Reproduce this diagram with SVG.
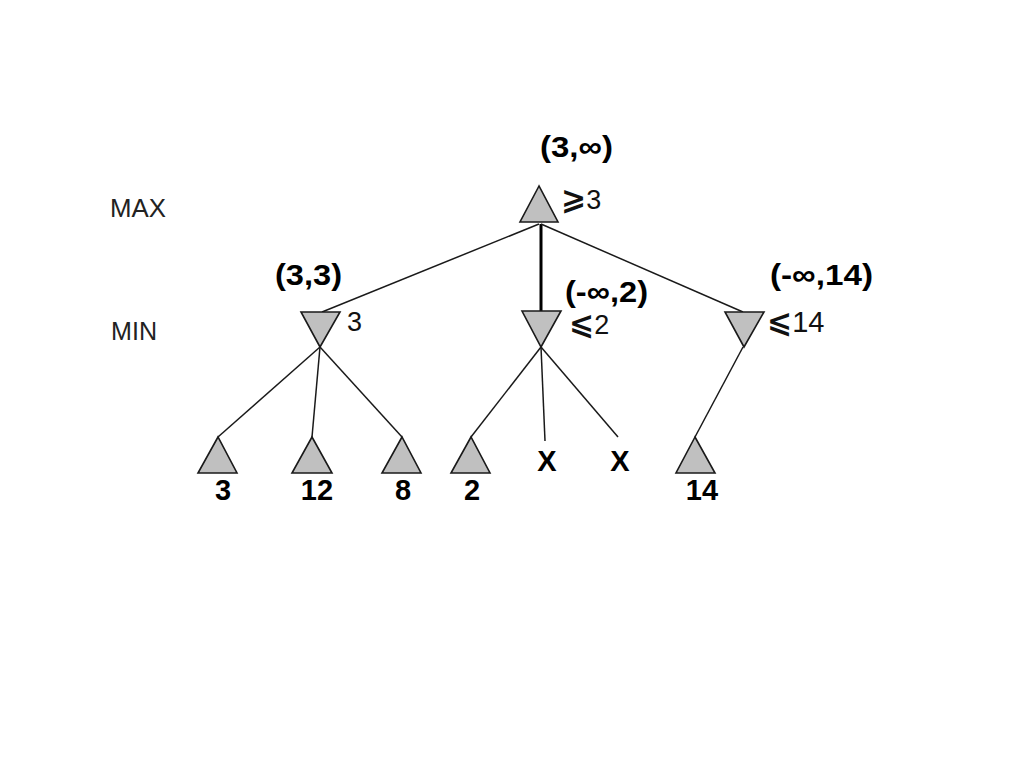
<svg xmlns="http://www.w3.org/2000/svg" width="1024" height="768" viewBox="0 0 1024 768">
<style>
.tri{fill:#c0c0c0;stroke:#1a1a1a;stroke-width:1.6;stroke-linejoin:miter}
.edge{stroke:#1a1a1a;stroke-width:1.5;fill:none}
.thick{stroke:#000;stroke-width:3}
.lvl{font-family:"Liberation Sans",Arial,sans-serif;font-size:25px;fill:#222}
.val{font-family:"Liberation Sans","DejaVu Sans",Arial,sans-serif;font-size:27px;fill:#111}
.sym{font-family:"DejaVu Sans",sans-serif;font-size:30px;font-weight:bold}
.b{font-family:"Liberation Sans",Arial,sans-serif;font-size:30px;font-weight:bold;fill:#000}
.leaf{font-family:"Liberation Sans",Arial,sans-serif;font-size:29px;font-weight:bold;fill:#000;text-anchor:middle}
</style>
<rect width="1024" height="768" fill="#fff"/>
<g id="connectors">
<line class="edge" x1="539" y1="224" x2="322" y2="312"/>
<line class="edge thick" x1="541" y1="224" x2="541" y2="312"/>
<line class="edge" x1="541" y1="224" x2="743" y2="312"/>
<line class="edge" x1="320" y1="347" x2="218" y2="437"/>
<line class="edge" x1="320" y1="347" x2="312" y2="437"/>
<line class="edge" x1="320" y1="347" x2="402" y2="437"/>
<line class="edge" x1="541" y1="347" x2="471" y2="437"/>
<line class="edge" x1="541" y1="347" x2="545" y2="441"/>
<line class="edge" x1="541" y1="347" x2="618" y2="437"/>
<line class="edge" x1="743" y1="347" x2="695" y2="437"/>
</g>
<g id="levels">
<text class="lvl" x="110" y="217" textLength="56" lengthAdjust="spacingAndGlyphs">MAX</text>
<text class="lvl" x="111" y="340" textLength="46" lengthAdjust="spacingAndGlyphs">MIN</text>
</g>
<g id="root">
<polygon class="tri" points="539,186 520,222 558,222"/>
<text class="val" x="561" y="209"><tspan class="sym">⩾</tspan>3</text>
<text class="b" x="540" y="157" textLength="73" lengthAdjust="spacingAndGlyphs">(3,∞)</text>
</g>
<g id="min-left">
<polygon class="tri" points="301,312 340,312 320,347"/>
<text class="val" x="347" y="331">3</text>
<text class="b" x="275" y="285" textLength="67" lengthAdjust="spacingAndGlyphs">(3,3)</text>
</g>
<g id="min-mid">
<polygon class="tri" points="522,311 561,311 541,347"/>
<text class="val" x="569" y="334"><tspan class="sym">⩽</tspan>2</text>
<text class="b" x="565" y="302" textLength="83" lengthAdjust="spacingAndGlyphs">(-∞,2)</text>
</g>
<g id="min-right">
<polygon class="tri" points="725,312 764,312 744,347"/>
<text class="val" x="767" y="332"><tspan class="sym">⩽</tspan><tspan font-size="29">14</tspan></text>
<text class="b" x="770" y="285" textLength="103" lengthAdjust="spacingAndGlyphs">(-∞,14)</text>
</g>
<g id="leaf-3">
<polygon class="tri" points="218,437 198,473 237,473"/>
<text class="leaf" x="223" y="500">3</text>
</g>
<g id="leaf-12">
<polygon class="tri" points="312,437 292,473 332,473"/>
<text class="leaf" x="317" y="500">12</text>
</g>
<g id="leaf-8">
<polygon class="tri" points="402,437 382,473 421,473"/>
<text class="leaf" x="403" y="500">8</text>
</g>
<g id="leaf-2">
<polygon class="tri" points="471,437 451,473 490,473"/>
<text class="leaf" x="472" y="500">2</text>
</g>
<g id="pruned-1">
<text class="leaf" x="547" y="471">X</text>
</g>
<g id="pruned-2">
<text class="leaf" x="620" y="471">X</text>
</g>
<g id="leaf-14">
<polygon class="tri" points="695,437 676,473 715,473"/>
<text class="leaf" x="702" y="500">14</text>
</g>
</svg>
